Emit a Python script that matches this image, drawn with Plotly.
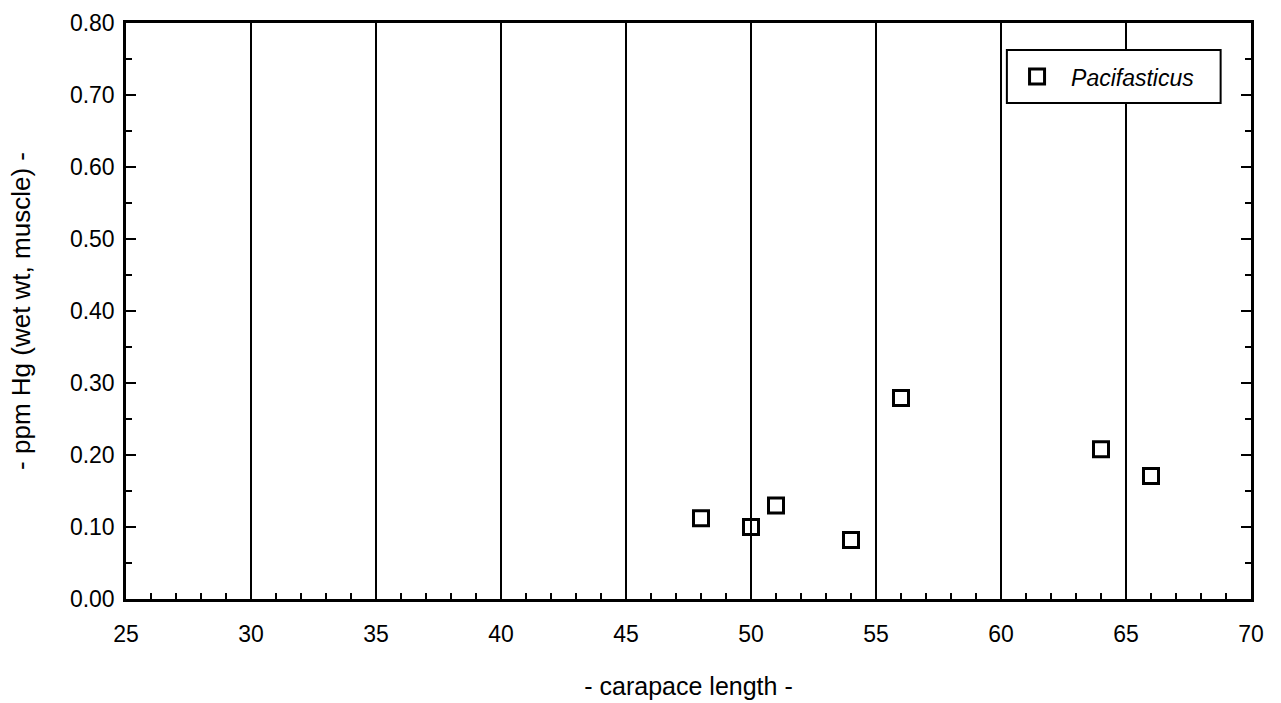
import plotly.graph_objects as go

# Carapace length vs mercury concentration in muscle tissue
carapace_length = [48, 50, 51, 54, 56, 64, 66]
ppm_hg = [0.112, 0.100, 0.130, 0.082, 0.279, 0.208, 0.171]
series_name = "Pacifasticus"

x_title = "- carapace length -"
y_title = "- ppm Hg (wet wt, muscle) -"

FONT = "Liberation Sans, Arial, Helvetica, sans-serif"

fig = go.Figure()
fig.add_trace(go.Scatter(
    x=carapace_length,
    y=ppm_hg,
    mode="markers",
    name=f"<i>{series_name}</i>",
    marker=dict(symbol="square-open", size=15, color="black",
                line=dict(width=3, color="black")),
))

axis_common = dict(
    showline=True, linecolor="black", linewidth=2.5, automargin=False,
    zeroline=False, tickcolor="black", tickfont=dict(family=FONT, size=23, color="black"),
)

fig.update_xaxes(
    range=[25, 70], dtick=5, tick0=25,
    showgrid=True, gridcolor="black", gridwidth=1.5,
    ticks="inside", ticklen=6, tickwidth=1.5,
    mirror=True, ticklabelstandoff=13,
    minor=dict(dtick=1, ticks="inside", ticklen=6, tickwidth=1.5, tickcolor="black", showgrid=False),
    title=dict(text=x_title, font=dict(family=FONT, size=25, color="black"), standoff=32),
    **axis_common,
)
fig.update_yaxes(
    range=[0, 0.8], dtick=0.1, tick0=0, tickformat=".2f",
    showgrid=False,
    ticks="inside", ticklen=10, tickwidth=2,
    mirror="ticks", ticklabelstandoff=4,
    minor=dict(dtick=0.05, ticks="inside", ticklen=6, tickwidth=1.5, tickcolor="black", showgrid=False),
    title=dict(text=y_title, font=dict(family=FONT, size=26, color="black"), standoff=32),
    **axis_common,
)

# Legend frame
fig.add_shape(type="rect", xref="paper", yref="paper",
              x0=0.783, x1=0.973, y0=0.861, y1=0.953,
              line=dict(color="black", width=2), fillcolor="white", layer="above")

fig.update_layout(
    width=1281, height=703,
    margin=dict(l=126, r=30, t=23, b=104),
    plot_bgcolor="white", paper_bgcolor="white",
    font=dict(family=FONT, color="black"),
    showlegend=True,
    legend=dict(x=0.7796, y=0.907, xanchor="left", yanchor="middle",
                bgcolor="rgba(0,0,0,0)", borderwidth=0,
                font=dict(family=FONT, size=23, color="black"),
                itemwidth=58),
)

fig.write_html("out.html")
